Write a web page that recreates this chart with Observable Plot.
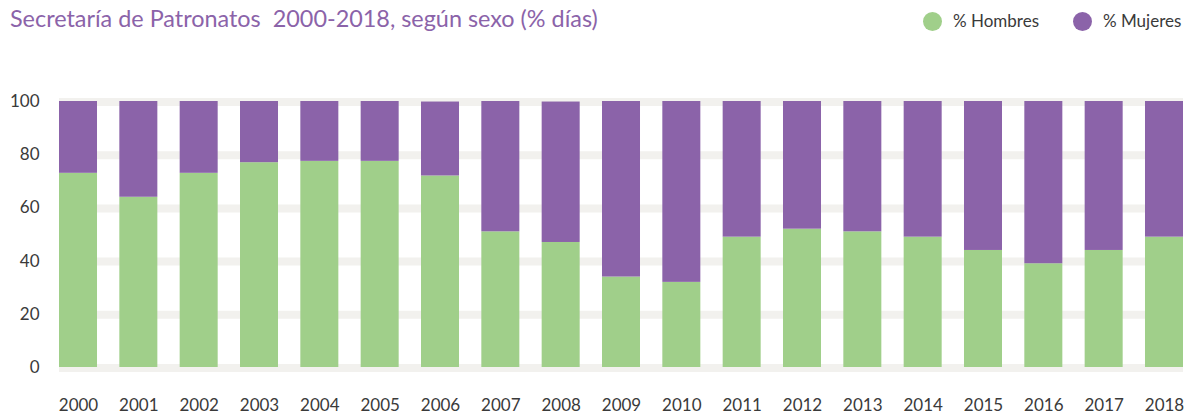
<!DOCTYPE html>
<html>
<head>
<meta charset="utf-8">
<script src="https://cdn.jsdelivr.net/npm/d3@7"></script>
<script src="https://cdn.jsdelivr.net/npm/@observablehq/plot@0.6"></script>
<style>
  body { margin: 0; background: #fff; font-family: Lato, "Open Sans", sans-serif; }
  #wrap { position: relative; width: 1185px; height: 414px; overflow: hidden; }
  #header { position: relative; height: 50px; }
  #title { position: absolute; left: 10px; top: 4px; font-size: 23.4px; line-height: 1.2; color: #8b63a9; white-space: nowrap; }
  .leg { position: absolute; top: 11px; display: flex; align-items: center; font-size: 17px; line-height: 1.2; color: #3a3a3a; }
  .dot { width: 19px; height: 19px; border-radius: 50%; margin-right: 11px; }
  svg { display: block; }
</style>
</head>
<body>
<div id="wrap">
  <div id="header">
    <div id="title">Secretaría de Patronatos&nbsp; 2000-2018, según sexo (% días)</div>
    <div class="leg" style="left:923px"><span class="dot" style="background:#a0cf8a"></span>% Hombres</div>
    <div class="leg" style="left:1073px"><span class="dot" style="background:#8b63a9"></span>% Mujeres</div>
  </div>
  <div id="chart"></div>
</div>
<script>
const years = ["2000","2001","2002","2003","2004","2005","2006","2007","2008","2009","2010","2011","2012","2013","2014","2015","2016","2017","2018"];
const hombres = [73, 64, 73, 77, 77.5, 77.5, 72, 51, 47, 34, 32, 49, 52, 51, 49, 44, 39, 44, 49];
const mujeres = [27, 36, 27, 23, 22.5, 22.5, 27.8, 49, 52.8, 66, 68, 51, 48, 49, 51, 56, 61, 56, 51];
const seriesNames = ["% Hombres", "% Mujeres"];
const seriesColors = ["#a0cf8a", "#8b63a9"];
const yTicks = [0, 20, 40, 60, 80, 100];

const rows = [];
years.forEach((y, i) => {
  rows.push({year: y, serie: seriesNames[0], value: hombres[i]});
  rows.push({year: y, serie: seriesNames[1], value: mujeres[i]});
});

const chart = Plot.plot({
  width: 1185,
  height: 364,
  marginTop: 51,
  marginBottom: 47,
  marginLeft: 59,
  marginRight: 2,
  style: {fontFamily: "Lato, 'Open Sans', sans-serif", fontSize: "17px", color: "#3a3a3a", background: "#fff"},
  x: {domain: years, paddingInner: 0.37, paddingOuter: 0, round: false, label: null},
  y: {domain: [0, 100], label: null},
  color: {domain: seriesNames, range: seriesColors},
  marks: [
    Plot.ruleY(yTicks, {stroke: "#f2f1ee", strokeWidth: 8, dy: 0.5}),
    Plot.barY(rows, {x: "year", y: "value", fill: "serie", order: seriesNames}),
    Plot.axisX({tickSize: 0, tickPadding: 31, fontSize: 17, fill: "#3a3a3a"}),
    Plot.axisY({ticks: yTicks, tickSize: 0, tickPadding: 20, fontSize: 17, fill: "#3a3a3a"})
  ]
});
document.getElementById("chart").appendChild(chart);
</script>
</body>
</html>
